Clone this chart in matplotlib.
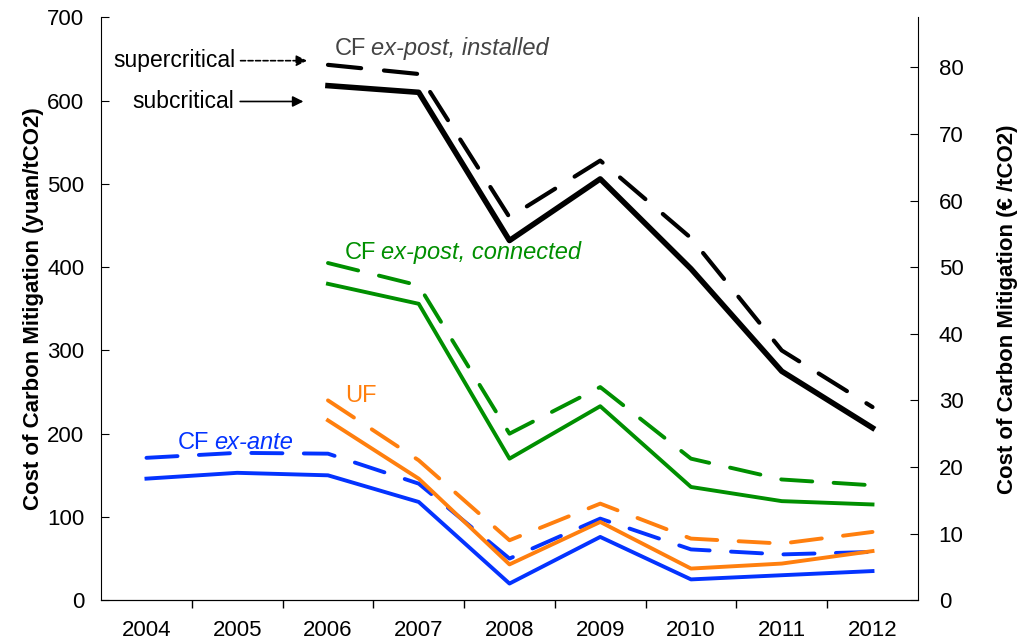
import matplotlib.pyplot as plt

plt.rcParams['font.family'] = ['Liberation Sans', 'DejaVu Sans']

years = ['2004', '2005', '2006', '2007', '2008', '2009', '2010', '2011', '2012']
x_all = list(range(9))
x_late = list(range(2, 9))

# CF ex-ante (2004-2012)
exante_sub = [146, 153, 150, 118, 20, 76, 25, 30, 35]
exante_sup = [171, 177, 176, 140, 50, 98, 61, 55, 58]
# UF (2006-2012)
uf_sub = [216, 146, 43, 94, 38, 44, 59]
uf_sup = [240, 168, 72, 116, 74, 68, 82]
# CF ex-post, connected (2006-2012)
conn_sub = [380, 356, 170, 233, 136, 119, 115]
conn_sup = [405, 378, 200, 256, 170, 145, 138]
# CF ex-post, installed (2006-2012)
inst_sub = [618, 610, 432, 506, 398, 275, 207]
inst_sup = [643, 632, 460, 528, 435, 300, 232]

blue = '#0433ff'
orange = '#ff7f0e'
green = '#008f00'
dash = (0, (8, 5.5))

fig, ax = plt.subplots(figsize=(10.21, 6.44), dpi=100)
fig.subplots_adjust(left=0.099, right=0.899, bottom=0.068, top=0.973)

ax.plot(x_all, exante_sub, c=blue, lw=2.8)
ax.plot(x_all, exante_sup, c=blue, lw=2.8, ls=dash, dash_capstyle='round')
ax.plot(x_late, uf_sub, c=orange, lw=2.8)
ax.plot(x_late, uf_sup, c=orange, lw=2.8, ls=dash, dash_capstyle='round')
ax.plot(x_late, conn_sub, c=green, lw=2.8)
ax.plot(x_late, conn_sup, c=green, lw=2.8, ls=dash, dash_capstyle='round')
ax.plot(x_late, inst_sub, c='black', lw=4)
ax.plot(x_late, inst_sup, c='black', lw=3, ls=dash, dash_capstyle='round')

ax.set_xlim(-0.5, 8.5)
ax.set_ylim(0, 700)
ax.set_yticks(range(0, 701, 100))
ax.set_xticks(x_all)
ax.set_xticklabels(years)
ax.set_xticks([i + 0.5 for i in range(8)], minor=True)
ax.tick_params(axis='x', which='major', length=0, pad=14, labelsize=16)
ax.tick_params(axis='x', which='minor', length=6, width=1)
ax.tick_params(axis='y', direction='in', length=6, pad=12, labelsize=16)
ax.spines['top'].set_visible(False)
ax.spines['right'].set_visible(False)
ax.set_ylabel("Cost of Carbon Mitigation (yuan/tCO2)", fontsize=16, fontweight='bold', labelpad=2)

ax2 = ax.twinx()
ax2.set_ylim(0, 87.5)
ax2.set_yticks(range(0, 81, 10))
ax2.tick_params(axis='y', direction='in', length=6, pad=15, labelsize=16)
ax2.spines['top'].set_visible(False)
ax2.spines['left'].set_visible(False)
ax2.set_ylabel("Cost of Carbon Mitigation (€ /tCO2)", fontsize=16, fontweight='bold', labelpad=24)


def series_label(x, y, plain, ital, color):
    t = ax.text(x, y, plain, color=color, fontsize=17, va='baseline')
    if ital:
        ax.annotate(ital, xy=(1, 0), xycoords=t, xytext=(3, 0), textcoords='offset points',
                    color=color, fontsize=17, style='italic', va='bottom')


series_label(2.08, 655, "CF", "ex-post, installed", '#444444')
series_label(2.19, 410, "CF", "ex-post, connected", green)
series_label(2.19, 238, "UF", None, orange)
series_label(0.35, 182, "CF", "ex-ante", blue)

ax.annotate("supercritical", xy=(1.80, 648), xytext=(-0.37, 648), fontsize=16.5, va='center',
            arrowprops=dict(arrowstyle='-|>', ls=(0, (3, 1.5)), color='black', lw=1.2, mutation_scale=16))
ax.annotate("subcritical", xy=(1.76, 599), xytext=(-0.15, 599), fontsize=16.5, va='center',
            arrowprops=dict(arrowstyle='-|>', color='black', lw=1.2, mutation_scale=16))

plt.savefig('out.png', dpi=100)
